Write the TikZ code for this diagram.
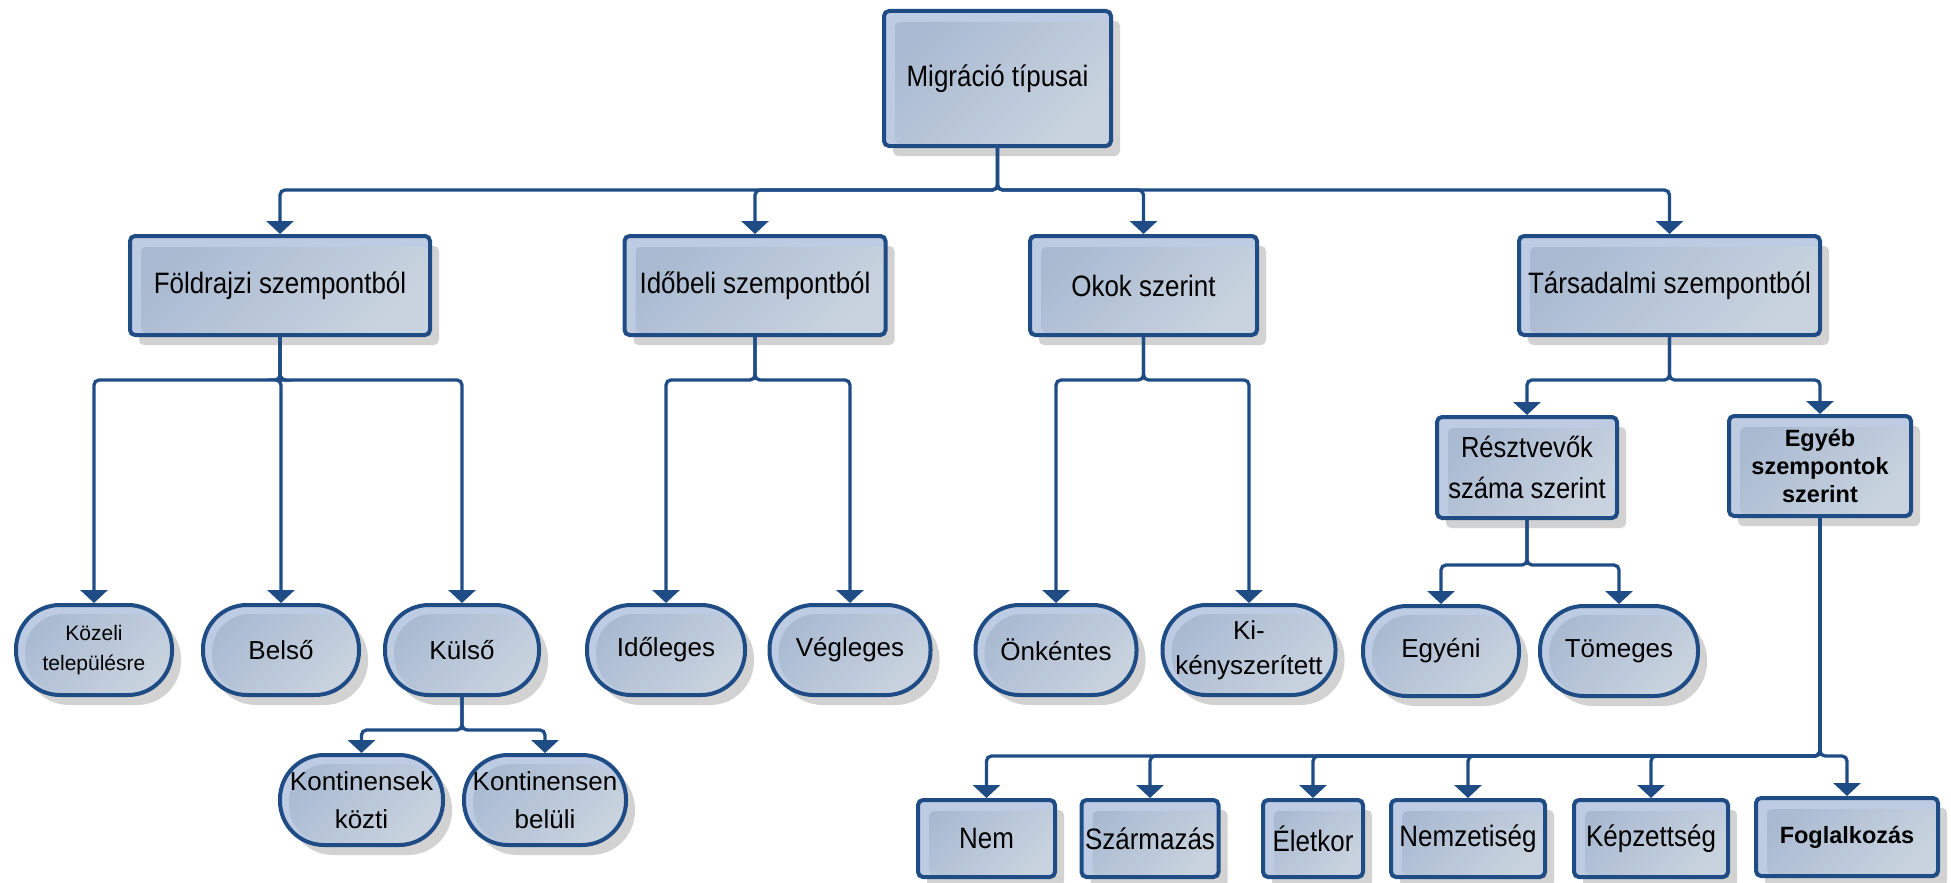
\documentclass[tikz,border=0pt]{standalone}
\usepackage{fontspec}
\setmainfont{Liberation Sans}
\newfontfamily\condf[FakeStretch=0.88]{Liberation Sans}
\usetikzlibrary{arrows.meta,shadows}
\definecolor{bord}{HTML}{1F4C85}
\definecolor{rim}{HTML}{BDCCE2}
\definecolor{fillA}{HTML}{A8B9D1}
\definecolor{fillB}{HTML}{C9D3DF}
\definecolor{shad}{HTML}{D2D2D2}
\tikzset{
  base/.style={draw=bord, line width=4pt, fill=rim, inner sep=1pt, align=center,
    text=black, font=\fontsize{26}{38}\selectfont,
    drop shadow={shadow xshift=9pt, shadow yshift=-10pt, fill=shad, opacity=1}},
  boxn/.style={base, rectangle, rounded corners=5pt, minimum height=99pt,
    font=\condf\fontsize{29.5}{40}\selectfont,
    path picture={\shade[rounded corners=5pt, top color=fillA, bottom color=fillB, shading angle=45]
      ([xshift=11pt,yshift=-11pt]path picture bounding box.north west) rectangle
      ([xshift=-2pt,yshift=2pt]path picture bounding box.south east);}},
  ovaln/.style={base, rectangle, rounded corners=44pt, minimum height=90pt,
    path picture={\shade[rounded corners=38pt, top color=fillA, bottom color=fillB, shading angle=45]
      ([xshift=9pt,yshift=-9pt]path picture bounding box.north west) rectangle
      ([xshift=-2pt,yshift=2pt]path picture bounding box.south east);}},
  boldtext/.style={font=\fontsize{23.5}{28}\selectfont\bfseries},
  conn/.style={draw=bord, line width=3.3pt, rounded corners=5pt, -{Triangle[width=27pt,length=13pt]}},
}
\begin{document}
\begin{tikzpicture}[x=1pt, y=-1pt]
\path[use as bounding box] (0,0) rectangle (1951,883);
% level 0
\node[boxn, minimum width=227pt, minimum height=135pt] (root) at (997.5,78.5) {Migráció típusai};
% level 1
\node[boxn, minimum width=300pt] (land) at (280,285.5) {Földrajzi szempontból};
\node[boxn, minimum width=261pt] (ido) at (755,285.5) {Időbeli szempontból};
\node[boxn, minimum width=227pt] (okok) at (1143.5,285.5) {Okok szerint};
\node[boxn, minimum width=301pt] (tars) at (1669.5,285.5) {Társadalmi szempontból};
% under Földrajzi
\node[ovaln, minimum width=156pt, font=\fontsize{21}{30}\selectfont] (kozeli) at (94,650) {Közeli\\településre};
\node[ovaln, minimum width=156pt] (belso) at (281,650) {Belső};
\node[ovaln, minimum width=154pt] (kulso) at (462,650) {Külső};
\node[ovaln, minimum width=163pt] (kont1) at (361.5,800) {Kontinensek\\közti};
\node[ovaln, minimum width=162pt] (kont2) at (545,800) {Kontinensen\\belüli};
% under Időbeli
\node[ovaln, minimum width=158pt] (idol) at (666,650) {Időleges};
\node[ovaln, minimum width=161pt] (veg) at (850,650) {Végleges};
% under Okok
\node[ovaln, minimum width=161pt] (onk) at (1056,650) {Önkéntes};
\node[ovaln, minimum width=173pt, font=\fontsize{26}{35}\selectfont] (kik) at (1249,650) {Ki-\\kényszerített};
% under Társadalmi
\node[boxn, minimum width=180pt, minimum height=101pt, font=\condf\fontsize{29}{41}\selectfont] (resz) at (1527,467.5) {Résztvevők\\száma szerint};
\node[boxn, minimum width=182pt, minimum height=100pt, boldtext] (egyeb) at (1820,466) {Egyéb\\szempontok\\szerint};
\node[ovaln, minimum width=156pt] (egyeni) at (1441,651) {Egyéni};
\node[ovaln, minimum width=158pt] (tomeg) at (1619,651) {Tömeges};
% bottom row
\node[boxn, minimum width=137pt, minimum height=77pt] (nem) at (986.5,838.5) {Nem};
\node[boxn, minimum width=137pt, minimum height=77pt] (szarm) at (1150,838.5) {Származás};
\node[boxn, minimum width=100pt, minimum height=77pt] (elet) at (1313,838.5) {Életkor};
\node[boxn, minimum width=154pt, minimum height=77pt] (nemz) at (1468,838.5) {Nemzetiség};
\node[boxn, minimum width=154pt, minimum height=77pt] (kepz) at (1651,838.5) {Képzettség};
\node[boxn, minimum width=182pt, minimum height=78pt, boldtext] (fogl) at (1847,837) {Foglalkozás};
% junctions
\coordinate (b0) at (997.5,190);
\coordinate (b1) at (280,380);
\coordinate (b2) at (755,380);
\coordinate (b3) at (1143.5,380);
\coordinate (b4) at (1669.5,380);
\coordinate (b5) at (462,730);
\coordinate (b6) at (1527,565);
\coordinate (b7) at (1820,756);
% connectors
\foreach \t in {land,ido,okok,tars} \draw[conn] (root.south) -- (b0) -| (\t.north);
\foreach \t in {kozeli,belso,kulso} \draw[conn] (land.south) -- (b1) -| (\t.north);
\foreach \t in {kont1,kont2} \draw[conn] (kulso.south) -- (b5) -| (\t.north);
\foreach \t in {idol,veg} \draw[conn] (ido.south) -- (b2) -| (\t.north);
\foreach \t in {onk,kik} \draw[conn] (okok.south) -- (b3) -| (\t.north);
\foreach \t in {resz,egyeb} \draw[conn] (tars.south) -- (b4) -| (\t.north);
\foreach \t in {egyeni,tomeg} \draw[conn] (resz.south) -- (b6) -| (\t.north);
\foreach \t in {nem,szarm,elet,nemz,kepz,fogl} \draw[conn] (egyeb.south) -- (b7) -| (\t.north);
\end{tikzpicture}
\end{document}
